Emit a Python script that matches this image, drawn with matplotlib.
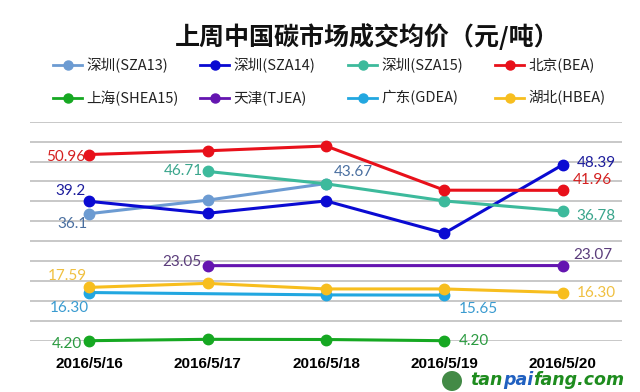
import numpy as np
import matplotlib
matplotlib.use("Agg")
import matplotlib.pyplot as plt
from matplotlib.lines import Line2D
from matplotlib.patches import Circle

# ---------------- data ----------------
dates = ["2016/5/16", "2016/5/17", "2016/5/18", "2016/5/19", "2016/5/20"]
names = ["深圳(SZA13)", "深圳(SZA14)", "深圳(SZA15)", "北京(BEA)",
         "上海(SHEA15)", "天津(TJEA)", "广东(GDEA)", "湖北(HBEA)"]
nan = np.nan
sza13 = [36.1, 39.5, 43.67, nan, nan]
sza14 = [39.2, 36.2, 39.3, 31.2, 48.39]
sza15 = [nan, 46.71, 43.6, 39.3, 36.78]
bea = [50.96, 51.9, 53.1, 42.0, 41.96]
shea15 = [4.20, 4.55, 4.5, 4.20, nan]
tjea = [nan, 23.05, nan, nan, 23.07]
gdea = [16.30, nan, 15.7, 15.65, nan]
hbea = [17.59, 18.6, 17.2, 17.2, 16.30]
series = [sza13, sza14, sza15, bea, shea15, tjea, gdea, hbea]

# labelled points: (series index, date index, text)
labels = [
    (3, 0, "50.96"), (1, 0, "39.2"), (0, 0, "36.1"), (2, 1, "46.71"),
    (0, 2, "43.67"), (1, 4, "48.39"), (3, 4, "41.96"), (2, 4, "36.78"),
    (5, 1, "23.05"), (5, 4, "23.07"), (7, 0, "17.59"), (6, 0, "16.30"),
    (4, 0, "4.20"), (6, 3, "15.65"), (4, 3, "4.20"), (7, 4, "16.30"),
]

# ---------------- style ----------------
line_colors = ["#6C9BD2", "#0A0AD2", "#3DBA9C", "#E8101A",
               "#16A822", "#6415B0", "#22A7E0", "#F7BE1F"]
label_colors = ["#4A6FA0", "#1C1C9C", "#3AA58C", "#D42020",
                "#2A9A40", "#5B3D7C", "#3A9BD0", "#F0C040"]
# label offsets in pixels (dx, dy, ha)
label_style = [
    (-4, -2, "right"), (-4, 10, "right"), (-2, -10, "right"), (-5, 0, "right"),
    (8, 12, "left"), (14, 2, "left"), (10, 10, "left"), (14, -5, "left"),
    (-6, 4, "right"), (10, 11, "left"), (-2, 11, "right"), (0, -15, "right"),
    (-7, -3, "right"), (14, -14, "left"), (14, 0, "left"), (14, 0, "left"),
]

W, H = 640, 392
fig = plt.figure(figsize=(6.4, 3.92), dpi=100)
fig.patch.set_facecolor("white")

ax = fig.add_axes([30 / W, 1 - 340.7 / H, 592 / W, 219 / H])
ax.set_xlim(-0.5, 4.5)
ax.set_ylim(4.2, 59.2)
ax.set_yticks(np.arange(4.2, 59.3, 5.0))
ax.yaxis.grid(True, color="#C4C4C4", linewidth=1.3)
ax.set_axisbelow(True)
for s in ax.spines.values():
    s.set_visible(False)
ax.tick_params(axis="y", length=0, labelleft=False)
ax.set_xticks(range(len(dates)))
ax.set_xticklabels(dates, fontsize=11, fontweight="bold",
                   family=["Liberation Sans", "DejaVu Sans"])
ax.tick_params(axis="x", length=0, pad=12)

xs = np.arange(len(dates))
for i, vals in enumerate(series):
    v = np.array(vals, dtype=float)
    m = ~np.isnan(v)
    ax.plot(xs[m], v[m], color=line_colors[i], linewidth=2.2, marker="o",
            markersize=7.5, clip_on=False, zorder=3 + i)

for (si, di, txt), (dx, dy, ha) in zip(labels, label_style):
    ax.annotate(txt, xy=(xs[di], series[si][di]), xytext=(dx, dy),
                textcoords="offset pixels", ha=ha, va="center",
                fontsize=11, color=label_colors[si],
                family=["Lato", "DejaVu Sans"], zorder=20)

# title
fig.text(367 / W, 1 - 37 / H, "上周中国碳市场成交均价（元/吨）",
         ha="center", va="center", fontsize=18, fontweight="bold",
         family=["Noto Sans CJK SC", "DejaVu Sans"], color="#111111")

# legend (manual)
col_x = [53, 200, 348, 495]
row_y = [65, 98]
for i, name in enumerate(names):
    r, c = divmod(i, 4)
    x0 = col_x[c]
    y = 1 - row_y[r] / H
    fig.add_artist(Line2D([x0 / W, (x0 + 29) / W], [y, y],
                          color=line_colors[i], linewidth=2))
    fig.add_artist(Line2D([(x0 + 15) / W], [y], color=line_colors[i],
                          marker="o", markersize=6.5, linestyle="none"))
    fig.text((x0 + 33) / W, y, name, ha="left", va="center",
             fontsize=10.5, color="#222222",
             family=["Noto Sans CJK SC", "DejaVu Sans"])

# watermark
fig.add_artist(Circle((4.52, 0.11), 0.10, transform=fig.dpi_scale_trans,
                      facecolor="#2E7D32", edgecolor="none", alpha=0.9))
kw = dict(ha="left", va="baseline", fontsize=12.5, fontweight="bold",
          fontstyle="italic", family="DejaVu Sans")
renderer = fig.canvas.get_renderer()
px = 470.0
for part, col in [("tan", "#1E8C1E"), ("pai", "#2060C0"), ("fang.com", "#1E8C1E")]:
    t = fig.text(px / W, 1 - 385 / H, part, color=col, **kw)
    px += t.get_window_extent(renderer=renderer).width + 0.5

fig.savefig("out.png", dpi=100)
